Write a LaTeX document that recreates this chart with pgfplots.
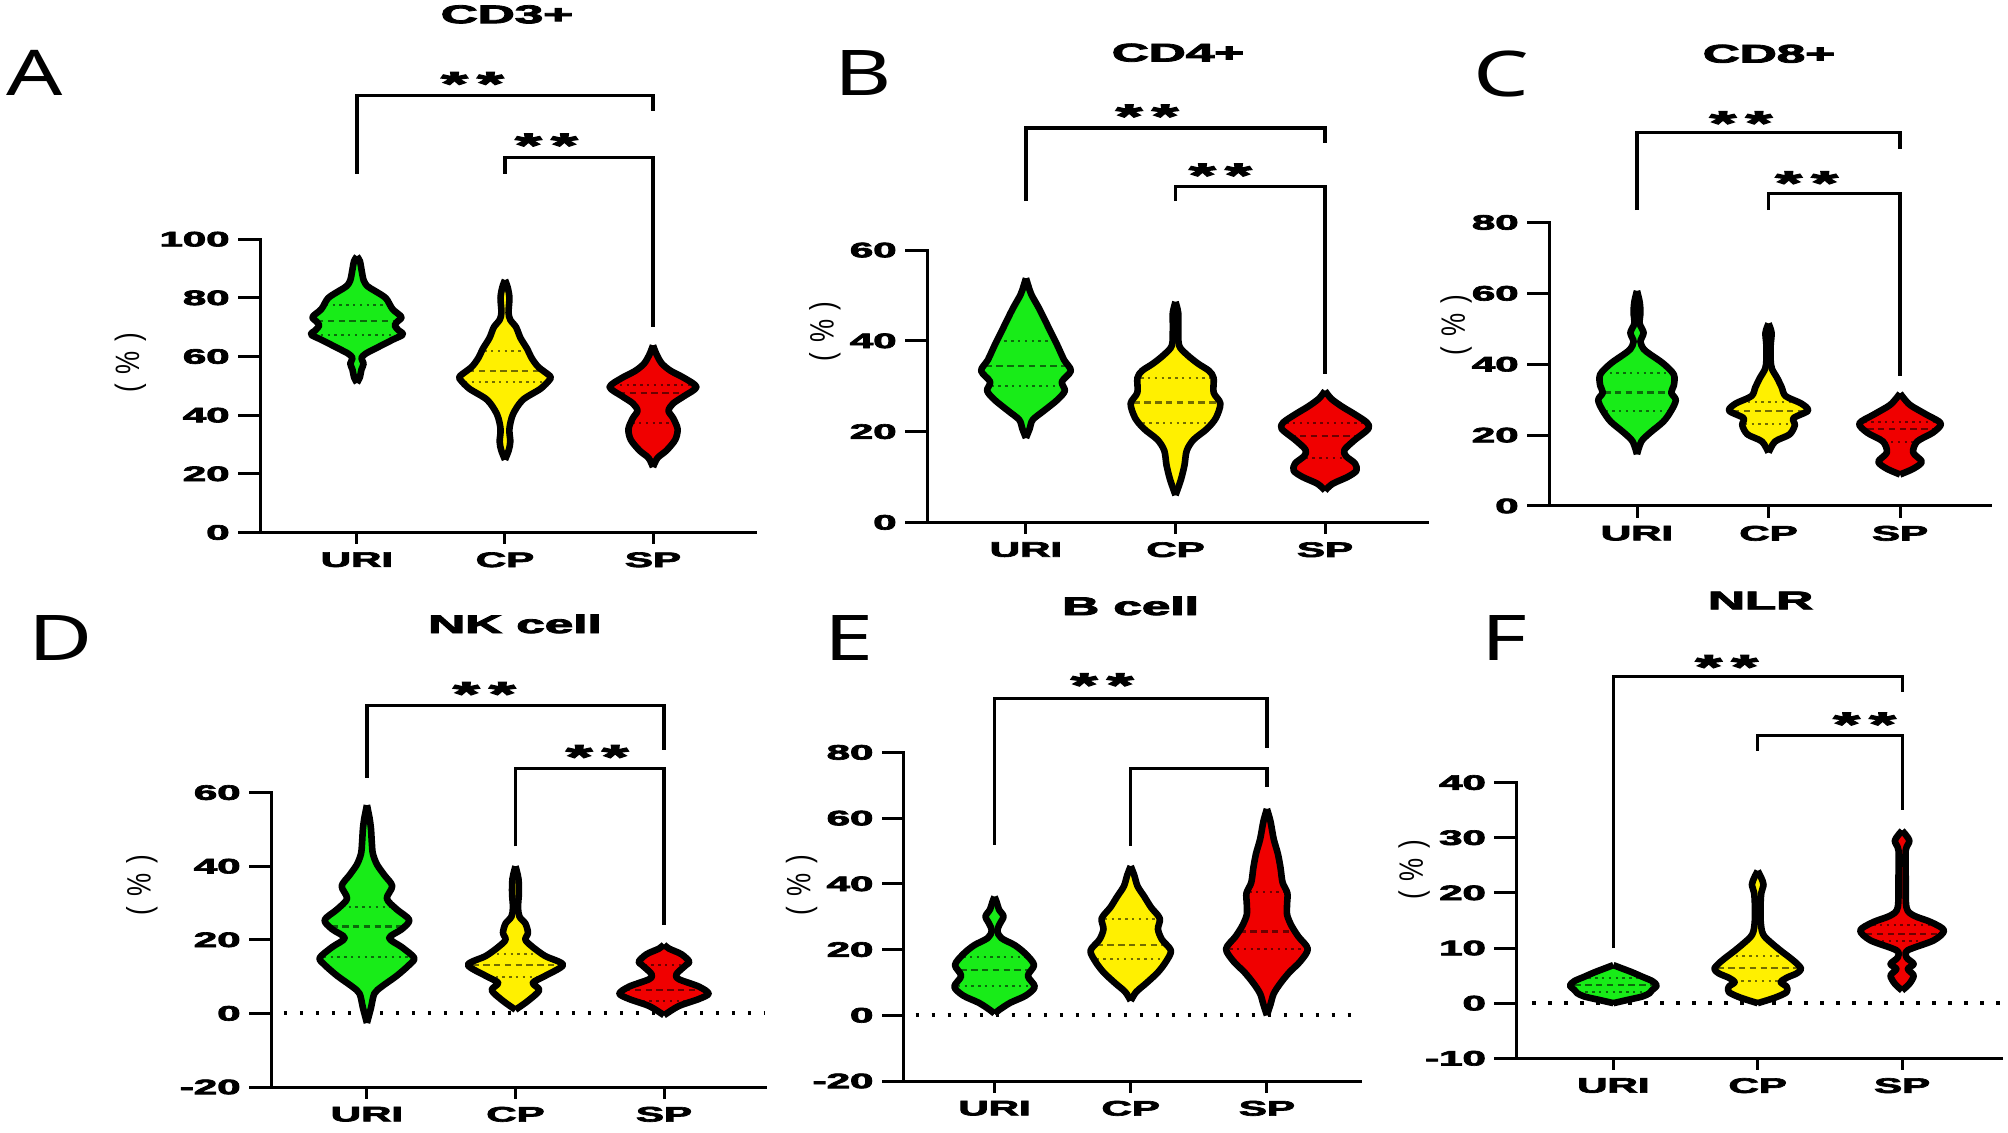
\documentclass[border=0pt]{standalone}
\usepackage{fontspec}
\setmainfont{Liberation Sans}
\newfontfamily\heavyfont{Liberation Sans}[BoldFeatures={FakeBold=3}]
\newfontfamily\letterfont{Noto Sans}
\usepackage{graphicx}
\usepackage{pgfplots}
\pgfplotsset{compat=1.18}
\usepackage{pgfplotstable}

\definecolor{vgreen}{RGB}{24,236,24}
\definecolor{vyellow}{RGB}{255,240,0}
\definecolor{vred}{RGB}{240,0,0}

\newcommand{\wide}[1]{\scalebox{2}[1]{#1}}
\newcommand{\tickfont}{\heavyfont\fontsize{10.5}{12}\selectfont\bfseries}
\newcommand{\titlefont}{\heavyfont\fontsize{12.8}{14}\selectfont\bfseries}
\newcommand{\starfont}{\heavyfont\fontsize{17}{18}\selectfont\bfseries}

% ---------- violin shapes: y, half width (category units) ----------
\pgfplotstableread{
y w
51 0
53 0.02
55.5 0.03
57.6 0.045
59.5 0.03
61 0.06
62.6 0.12
65.7 0.24
67.5 0.31
69 0.28
70.6 0.255
72 0.275
73.5 0.30
76.2 0.24
79.9 0.195
82.4 0.12
84 0.07
86 0.045
89.8 0.03
92.5 0.02
94.2 0
}\AUri
\pgfplotstableread{
y w
24.8 0
28 0.025
31 0.036
35.3 0.03
40.3 0.054
45.2 0.12
49 0.24
52 0.30
53.3 0.305
56.4 0.226
59.5 0.18
62.6 0.15
66.3 0.105
70 0.075
72.5 0.036
75 0.024
80 0.03
83.6 0.018
86.1 0
}\ACp
\pgfplotstableread{
y w
22.3 0
25.4 0.03
27.9 0.09
31.6 0.15
35.3 0.166
39 0.136
41.5 0.105
44 0.136
46.5 0.21
49.6 0.293
52.7 0.21
55.1 0.12
57.6 0.06
60.7 0.024
63.8 0
}\ASp
\pgfplotstableread{
y w
18.6 0
20.6 0.024
22.6 0.045
24.6 0.12
27 0.21
29 0.26
31 0.24
33.4 0.30
35.8 0.255
39 0.21
43 0.15
47 0.09
50.2 0.036
52.2 0.015
53.8 0
}\BUri
\pgfplotstableread{
y w
6 0
9.4 0.036
12.6 0.06
15.8 0.075
18.2 0.12
20.6 0.21
23 0.27
26.2 0.30
28.6 0.255
31.8 0.255
33.4 0.224
35 0.15
37 0.075
39 0.024
43 0.018
46.2 0.018
48.6 0
}\BCp
\pgfplotstableread{
y w
7 0
8.5 0.05
10 0.15
11.4 0.21
13 0.2
14.6 0.14
16 0.13
18.2 0.2
20.6 0.29
22 0.28
23.8 0.2
25.6 0.11
27.3 0.04
29 0
}\BSp
\pgfplotstableread{
y w
14.6 0
18.2 0.033
20.7 0.1
23.8 0.2
26.9 0.26
29.9 0.295
32 0.26
34 0.28
37.1 0.28
40.2 0.2
42.8 0.1
44.3 0.05
46.4 0.026
48.9 0.05
51.5 0.02
54.6 0.026
57.6 0.02
60.7 0
}\CUri
\pgfplotstableread{
y w
15.1 0
18.2 0.05
20.2 0.16
22.8 0.2
24.8 0.19
26.9 0.3
28.9 0.25
31 0.13
33.5 0.1
36.1 0.066
38.7 0.026
41.2 0.016
45.3 0.016
48.9 0.023
51.5 0
}\CCp
\pgfplotstableread{
y w
8.9 0
10.5 0.1
12.5 0.165
15.1 0.1
18.2 0.13
20.7 0.25
23.3 0.31
25.8 0.2
28.4 0.08
30.5 0.026
31.8 0
}\CSp
\pgfplotstableread{
y w
-2.6 0
1.5 0.027
5.4 0.05
7.3 0.1
10.2 0.2
13.2 0.285
15.1 0.318
18 0.235
20.5 0.15
22.9 0.235
25.4 0.285
28.3 0.2
31.2 0.134
34.6 0.17
37.6 0.117
40.5 0.067
43.4 0.04
46.3 0.033
50.2 0.027
53.2 0.017
56.6 0
}\DUri
\pgfplotstableread{
y w
1 0
3.4 0.084
6.3 0.16
8.3 0.117
10.2 0.2
13.2 0.32
15.6 0.2
18 0.117
20 0.067
21.9 0.084
24.4 0.067
26.3 0.027
28.8 0.017
32.7 0.023
36.6 0.02
40 0
}\DCp
\pgfplotstableread{
y w
-0.5 0
2 0.1
3.9 0.234
5.4 0.3
7.3 0.234
9.3 0.1
10.7 0.084
13.2 0.15
14.1 0.17
16.1 0.117
17.6 0.034
18.7 0
}\DSp
\pgfplotstableread{
y w
0.5 0
1.6 0.033
3.8 0.115
6 0.23
8.7 0.295
12 0.245
15.3 0.29
18.6 0.23
21.3 0.15
23.5 0.05
25.7 0.02
27.9 0.04
30.1 0.066
32.2 0.033
34.4 0.016
36.1 0
}\EUri
\pgfplotstableread{
y w
4.4 0
7.1 0.04
9.8 0.115
13.1 0.2
16.4 0.26
19.7 0.295
23 0.23
26.2 0.2
29.5 0.213
32.8 0.15
36.1 0.1
39.3 0.05
42.6 0.026
45.4 0
}\ECp
\pgfplotstableread{
y w
0 0
3.3 0.026
6.6 0.05
9.8 0.1
13.1 0.165
16.4 0.245
20.2 0.3
24 0.23
27.3 0.18
30.6 0.148
33.9 0.148
37.2 0.15
40.4 0.115
44.8 0.1
49.2 0.08
53.6 0.05
59 0.026
62.8 0
}\ESp
\pgfplotstableread{
y w
0 0
0.6 0.1
1.2 0.2
1.8 0.25
2.4 0.27
3.2 0.3
4.0 0.27
4.8 0.2
5.6 0.13
6.3 0.06
6.9 0
}\FUri
\pgfplotstableread{
y w
0 0
1 0.12
2 0.2
3 0.2
3.8 0.16
4.6 0.2
5.4 0.27
6.2 0.3
7.2 0.27
8.3 0.22
9.5 0.16
10.8 0.1
12 0.05
13 0.03
15 0.02
18 0.02
20 0.025
21.5 0.04
22.7 0.025
24 0
}\FCp
\pgfplotstableread{
y w
2.3 0
3.5 0.05
5.0 0.08
6.2 0.04
7.1 0.08
8.3 0.03
9.6 0.04
11.4 0.22
13.2 0.29
14.7 0.2
15.9 0.08
17.4 0.03
22.8 0.025
27.7 0.025
29.5 0.05
31.3 0
}\FSp

\pgfplotsset{
  vpanel/.style={
    scale only axis, anchor=south west, clip=false,
    axis lines*=left,
    axis line style={line width=1.5pt, line cap=rect},
    major tick length=0pt,
    xtick={0,1,2},
    xticklabels={\wide{URI},\wide{CP},\wide{SP}},
    tick label style={font=\tickfont, inner sep=0pt},
    xticklabel style={anchor=north, yshift=-9.75pt},
    yticklabel style={anchor=east, xshift=-15pt},
  },
  vedge/.style={black, line width=3.3pt, line join=round, line cap=butt},
  brk/.style={black, line width=1.6pt},
  med/.style={line width=1.1pt, dash pattern=on 3.2pt off 2.2pt},
  qrt/.style={line width=1pt, dash pattern=on 1.2pt off 2.2pt},
  zeroline/.style={black, line width=2pt, dash pattern=on 1.8pt off 6.2pt},
}

% violin fill: two halves closed along the centre line, plus a seam cover
\newcommand{\vshape}[3]{%
  \addplot[fill=#3, draw=none, smooth] table[x expr={#2+\thisrow{w}}, y=y] {#1} -- cycle;
  \addplot[fill=#3, draw=none, smooth] table[x expr={#2-\thisrow{w}}, y=y] {#1} -- cycle;
  \addplot[#3, line width=1pt] table[x expr={#2}, y=y] {#1};
}
\newcommand{\voutline}[2]{%
  \addplot[vedge, smooth] table[x expr={#2+\thisrow{w}}, y=y] {#1};
  \addplot[vedge, smooth] table[x expr={#2-\thisrow{w}}, y=y] {#1};
}
\newcommand{\qline}[5]{%
  \addplot[#4!45!black, #5] table[row sep=\\, x expr={#1+\thisrow{s}*#3}, y expr=#2] {s\\-1\\1\\};
}
\newcommand{\sigbracket}[5]{%
  \addplot[brk] coordinates {(#1,#4) (#1,#3) (#2,#3) (#2,#5)};
}
\newcommand{\sigstars}[2]{%
  \node[font=\starfont, inner sep=0pt, anchor=base, yshift=-9.5pt] at (axis cs:#1,#2) {\wide{*\hspace{0.14em}*}};
}
\newcommand{\myyticks}[2]{%
  \pgfplotsinvokeforeach{#2}{\draw[line width=1.5pt] (axis cs:#1,##1) -- ([xshift=-11pt]axis cs:#1,##1);}
}
\newcommand{\myxticks}[1]{%
  \pgfplotsinvokeforeach{0,1,2}{\draw[line width=1.5pt] (axis cs:##1,#1) -- ([yshift=-6pt]axis cs:##1,#1);}
}
\newcommand{\plabel}[3]{%
  \node[inner sep=0pt, font=\letterfont\fontsize{31.5}{34}\selectfont] at (#1pt,#2pt) {\scalebox{1.4}[1]{#3}};
}
\newcommand{\ptitle}[3]{%
  \node[inner sep=0pt, font=\titlefont] at (#1pt,#2pt) {\wide{#3}};
}
\newcommand{\pylab}[2]{%
  \node[rotate=90, inner sep=0pt, font=\fontsize{13}{14}\selectfont] at (#1pt,#2pt) {\scalebox{1}[1.3]{\makebox[30pt]{(\hfill\%\hfill)}}};
}

\begin{document}
\begin{tikzpicture}
\useasboundingbox (0pt,0pt) rectangle (1004pt,-566.5pt);

% ================= A: CD3+ =================
\begin{axis}[vpanel, at={(130pt,-266.25pt)}, width=247.5pt, height=146.65pt,
  xmin=-0.655, xmax=2.689, ymin=0, ymax=100,
  ytick={0,20,40,60,80,100},
  yticklabels={\wide{0},\wide{20},\wide{40},\wide{60},\wide{80},\wide{100}}]
\vshape{\AUri}{0}{vgreen}
\qline{0}{72.1}{0.27}{vgreen}{med}
\qline{0}{77.7}{0.21}{vgreen}{qrt}
\qline{0}{67.3}{0.29}{vgreen}{qrt}
\voutline{\AUri}{0}
\vshape{\ACp}{1}{vyellow}
\qline{1}{55.1}{0.25}{vyellow}{med}
\qline{1}{62.0}{0.14}{vyellow}{qrt}
\qline{1}{51.2}{0.27}{vyellow}{qrt}
\voutline{\ACp}{1}
\vshape{\ASp}{2}{vred}
\qline{2}{47.5}{0.23}{vred}{med}
\qline{2}{50.2}{0.27}{vred}{qrt}
\qline{2}{37.2}{0.14}{vred}{qrt}
\voutline{\ASp}{2}
\sigbracket{0}{2}{149.1}{122.3}{143.7}
\sigbracket{1}{2}{127.9}{122.3}{70}
\sigstars{0.78}{155.5}
\sigstars{1.28}{134.5}
\myyticks{-0.655}{0,20,40,60,80,100}
\myxticks{0}
\end{axis}

% ================= B: CD4+ =================
\begin{axis}[vpanel, at={(463.5pt,-261.2pt)}, width=250pt, height=136.15pt,
  xmin=-0.662, xmax=2.682, ymin=0, ymax=60,
  ytick={0,20,40,60},
  yticklabels={\wide{0},\wide{20},\wide{40},\wide{60}}]
\vshape{\BUri}{0}{vgreen}
\qline{0}{34.4}{0.27}{vgreen}{med}
\qline{0}{40.0}{0.19}{vgreen}{qrt}
\qline{0}{30.0}{0.23}{vgreen}{qrt}
\voutline{\BUri}{0}
\vshape{\BCp}{1}{vyellow}
\qline{1}{26.4}{0.28}{vyellow}{med}
\qline{1}{31.8}{0.23}{vyellow}{qrt}
\qline{1}{21.9}{0.22}{vyellow}{qrt}
\voutline{\BCp}{1}
\vshape{\BSp}{2}{vred}
\qline{2}{19.1}{0.24}{vred}{med}
\qline{2}{22.0}{0.26}{vred}{qrt}
\qline{2}{14.3}{0.13}{vred}{qrt}
\voutline{\BSp}{2}
\sigbracket{0}{2}{86.9}{70.8}{83.7}
\sigbracket{1}{2}{74.1}{70.8}{32.6}
\sigstars{0.81}{91.1}
\sigstars{1.30}{78.1}
\myyticks{-0.662}{0,20,40,60}
\myxticks{0}
\end{axis}

% ================= C: CD8+ =================
\begin{axis}[vpanel, at={(774.5pt,-253pt)}, width=220.5pt, height=141.75pt,
  xmin=-0.669, xmax=2.684, ymin=0, ymax=80,
  ytick={0,20,40,60,80},
  yticklabels={\wide{0},\wide{20},\wide{40},\wide{60},\wide{80}}]
\vshape{\CUri}{0}{vgreen}
\qline{0}{32.0}{0.25}{vgreen}{med}
\qline{0}{37.6}{0.26}{vgreen}{qrt}
\qline{0}{26.9}{0.24}{vgreen}{qrt}
\voutline{\CUri}{0}
\vshape{\CCp}{1}{vyellow}
\qline{1}{26.9}{0.27}{vyellow}{med}
\qline{1}{29.4}{0.21}{vyellow}{qrt}
\qline{1}{23.0}{0.18}{vyellow}{qrt}
\voutline{\CCp}{1}
\vshape{\CSp}{2}{vred}
\qline{2}{21.7}{0.25}{vred}{med}
\qline{2}{23.8}{0.27}{vred}{qrt}
\qline{2}{18.2}{0.12}{vred}{qrt}
\voutline{\CSp}{2}
\sigbracket{0}{2}{105.3}{83.5}{100.7}
\sigbracket{1}{2}{88.1}{83.5}{36.8}
\sigstars{0.79}{110.1}
\sigstars{1.29}{93.2}
\myyticks{-0.669}{0,20,40,60,80}
\myxticks{0}
\end{axis}

% ================= D: NK cell =================
\begin{axis}[vpanel, at={(135.5pt,-543.5pt)}, width=247pt, height=147.2pt,
  xmin=-0.646, xmax=2.680, ymin=-20, ymax=60,
  ytick={-20,0,20,40,60},
  yticklabels={\wide{-20},\wide{0},\wide{20},\wide{40},\wide{60}}]
\addplot[zeroline] coordinates {(-0.56,0) (2.68,0)};
\vshape{\DUri}{0}{vgreen}
\qline{0}{23.6}{0.24}{vgreen}{med}
\qline{0}{29.0}{0.17}{vgreen}{qrt}
\qline{0}{15.3}{0.29}{vgreen}{qrt}
\voutline{\DUri}{0}
\vshape{\DCp}{1}{vyellow}
\qline{1}{13.2}{0.29}{vyellow}{med}
\qline{1}{16.1}{0.17}{vyellow}{qrt}
\qline{1}{10.0}{0.18}{vyellow}{qrt}
\voutline{\DCp}{1}
\vshape{\DSp}{2}{vred}
\qline{2}{6.3}{0.27}{vred}{med}
\qline{2}{13.2}{0.13}{vred}{qrt}
\qline{2}{3.4}{0.19}{vred}{qrt}
\voutline{\DSp}{2}
\sigbracket{0}{2}{83.7}{64.1}{71.7}
\sigbracket{1}{2}{66.6}{45.4}{23.9}
\sigstars{0.79}{88.8}
\sigstars{1.55}{71.7}
\myyticks{-0.646}{-20,0,20,40,60}
\myxticks{-20}
\end{axis}

% ================= E: B cell =================
\begin{axis}[vpanel, at={(451.9pt,-540.5pt)}, width=228.35pt, height=164.3pt,
  xmin=-0.666, xmax=2.687, ymin=-20, ymax=80,
  ytick={-20,0,20,40,60,80},
  yticklabels={\wide{-20},\wide{0},\wide{20},\wide{40},\wide{60},\wide{80}}]
\addplot[zeroline] coordinates {(-0.58,0) (2.687,0)};
\vshape{\EUri}{0}{vgreen}
\qline{0}{13.7}{0.25}{vgreen}{med}
\qline{0}{17.7}{0.23}{vgreen}{qrt}
\qline{0}{9.0}{0.27}{vgreen}{qrt}
\voutline{\EUri}{0}
\vshape{\ECp}{1}{vyellow}
\qline{1}{21.5}{0.25}{vyellow}{med}
\qline{1}{29.2}{0.19}{vyellow}{qrt}
\qline{1}{17.2}{0.25}{vyellow}{qrt}
\voutline{\ECp}{1}
\vshape{\ESp}{2}{vred}
\qline{2}{25.5}{0.2}{vred}{med}
\qline{2}{37.4}{0.13}{vred}{qrt}
\qline{2}{20.2}{0.27}{vred}{qrt}
\voutline{\ESp}{2}
\sigbracket{0}{2}{96.5}{51.9}{81.2}
\sigbracket{1}{2}{75.2}{51.6}{69.4}
\sigstars{0.79}{102.7}
\myyticks{-0.666}{-20,0,20,40,60,80}
\myxticks{-20}
\end{axis}

% ================= F: NLR =================
\begin{axis}[vpanel, at={(758.15pt,-529.15pt)}, width=242.35pt, height=137.85pt,
  xmin=-0.672, xmax=2.685, ymin=-10, ymax=40,
  ytick={-10,0,10,20,30,40},
  yticklabels={\wide{-10},\wide{0},\wide{10},\wide{20},\wide{30},\wide{40}}]
\addplot[zeroline] coordinates {(-0.56,0) (2.685,0)};
\vshape{\FUri}{0}{vgreen}
\qline{0}{3.3}{0.27}{vgreen}{med}
\qline{0}{4.5}{0.22}{vgreen}{qrt}
\qline{0}{2.0}{0.24}{vgreen}{qrt}
\voutline{\FUri}{0}
\vshape{\FCp}{1}{vyellow}
\qline{1}{6.35}{0.28}{vyellow}{med}
\qline{1}{8.5}{0.2}{vyellow}{qrt}
\qline{1}{4.1}{0.16}{vyellow}{qrt}
\voutline{\FCp}{1}
\vshape{\FSp}{2}{vred}
\qline{2}{12.6}{0.25}{vred}{med}
\qline{2}{14.2}{0.2}{vred}{qrt}
\qline{2}{11.2}{0.14}{vred}{qrt}
\voutline{\FSp}{2}
\sigbracket{0}{2}{59.3}{10.0}{56.5}
\sigbracket{1}{2}{48.6}{45.8}{35.1}
\sigstars{0.785}{62.3}
\sigstars{1.74}{51.9}
\myyticks{-0.672}{-10,0,10,20,30,40}
\myxticks{-10}
\end{axis}

% ---------- panel letters, titles, y labels ----------
\plabel{17.25}{-36.25}{A}
\plabel{431.5}{-36.5}{B}
\plabel{750.8}{-37.25}{C}
\plabel{30.3}{-319.1}{D}
\plabel{424.7}{-319.1}{E}
\plabel{752.3}{-319.1}{F}

\ptitle{253.5}{-7.2}{CD3+}
\ptitle{589}{-26.35}{CD4+}
\ptitle{884.5}{-26.9}{CD8+}
\ptitle{257.5}{-311.95}{NK cell}
\ptitle{565.3}{-302.95}{B cell}
\ptitle{880.3}{-300.25}{NLR}

\pylab{65.25}{-181.25}
\pylab{412.4}{-165.7}
\pylab{728.1}{-162.65}
\pylab{70.9}{-442.5}
\pylab{400.8}{-442.5}
\pylab{707}{-434.9}
\end{tikzpicture}
\end{document}
